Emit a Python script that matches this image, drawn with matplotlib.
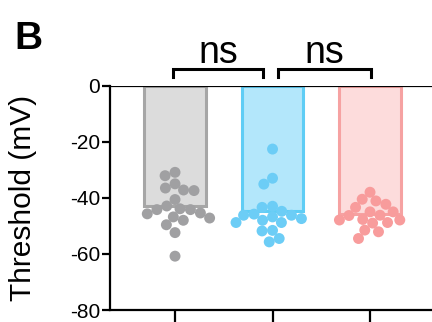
import numpy as np
import matplotlib
matplotlib.use("Agg")
import matplotlib.pyplot as plt

plt.rcParams['font.family'] = ['Liberation Sans', 'DejaVu Sans']

# Threshold values (mV) per group
grupos = ['Control', 'Grupo 2', 'Grupo 3']
umbral_gris = [-30.9, -32.1, -35.0, -36.5, -37.2, -37.4, -40.6, -42.9, -43.9, -44.2,
               -44.2, -45.4, -45.7, -46.8, -47.2, -48.0, -49.6, -52.4, -60.8]
umbral_azul = [-22.6, -33.0, -35.1, -43.0, -43.4, -44.8, -45.8, -46.2, -46.2, -46.8,
               -47.4, -48.0, -48.8, -48.8, -51.6, -51.8, -54.5, -55.7]
umbral_rosa = [-38.0, -40.5, -41.1, -42.3, -43.4, -45.0, -45.0, -46.2, -46.3, -47.7,
               -47.9, -47.9, -48.8, -49.0, -51.5, -52.1, -54.5]
medias = [-43.0, -44.6, -45.8]
etiquetas_sig = ['ns', 'ns']
yticks = [0, -20, -40, -60, -80]

colores_punto = ['#a0a0a2', '#6ccdf6', '#f89c9c']
colores_relleno = ['#dcdcdc', '#b3e7fb', '#fddcdc']
colores_borde = ['#a6a6a6', '#5fcdf5', '#f6a2a2']

W, H = 432, 322
fig = plt.figure(figsize=(W / 100, H / 100), dpi=100)
ax = fig.add_axes([110 / W, 12 / H, 335 / W, 224.3 / H])
ax.set_xlim(-0.667, 2.769)
ax.set_ylim(-80, 0)

# escala en pixeles para acomodar los puntos
px_x = 335 / (2.769 + 0.667)
px_y = 224.3 / 80
diam = 10.5


def enjambre(valores):
    # beeswarm: cada punto va a la posicion libre mas cercana al centro
    v = np.array(valores)
    orden = np.argsort(-v)
    colocados = []
    xs = np.zeros(len(v))
    for i in orden:
        y = v[i] * px_y
        vecinos = []
        for (cx, cy) in colocados:
            dy = abs(cy - y)
            if dy < diam:
                vecinos.append((cx, np.sqrt(diam ** 2 - dy ** 2)))
        cands = [0.0]
        for cx, r in vecinos:
            cands += [cx - r, cx + r]
        cands.sort(key=lambda c: (abs(c), c))
        for c in cands:
            if all(abs(c - cx) >= r - 1e-6 for cx, r in vecinos):
                xs[i] = c
                break
        colocados.append((xs[i], y))
    return xs / px_x


datos = [umbral_gris, umbral_azul, umbral_rosa]
for i, vals in enumerate(datos):
    ax.bar(i, medias[i], width=0.63, color=colores_relleno[i],
           edgecolor=colores_borde[i], linewidth=2.2, zorder=1)
    dx = enjambre(vals)
    ax.scatter(i + dx, vals, s=62, color=colores_punto[i], edgecolors='none',
               zorder=3, clip_on=False)

ax.axhline(0, color='black', linewidth=1.6, zorder=4)

for s in ['top', 'right']:
    ax.spines[s].set_visible(False)
for s in ['left', 'bottom']:
    ax.spines[s].set_linewidth(1.6)

ax.set_yticks(yticks)
ax.set_yticklabels([str(t) for t in yticks], fontsize=15)
ax.tick_params(axis='y', length=5.5, width=1.6, pad=1.5)
ax.set_xticks(range(len(grupos)))
ax.set_xticklabels([''] * len(grupos))
ax.tick_params(axis='x', length=10, width=1.6)

ax.set_ylabel('Threshold (mV)', fontsize=21.5)
ax.yaxis.set_label_coords(-0.218, 0.5)

# corchetes de significancia
corchetes = [(-0.02, 0.90), (1.056, 2.01)]
for (x0, x1), txt in zip(corchetes, etiquetas_sig):
    ax.plot([x0, x0, x1, x1], [3.1, 6.1, 6.1, 3.1], color='black',
            linewidth=2.2, clip_on=False, solid_joinstyle='miter')
    ax.text((x0 + x1) / 2, 8.1, txt, ha='center', va='baseline',
            fontsize=27, clip_on=False)

fig.text(14 / W, 1 - 49 / H, 'B', fontsize=28, fontweight='bold',
         ha='left', va='baseline')

fig.savefig('out.png', dpi=100)
